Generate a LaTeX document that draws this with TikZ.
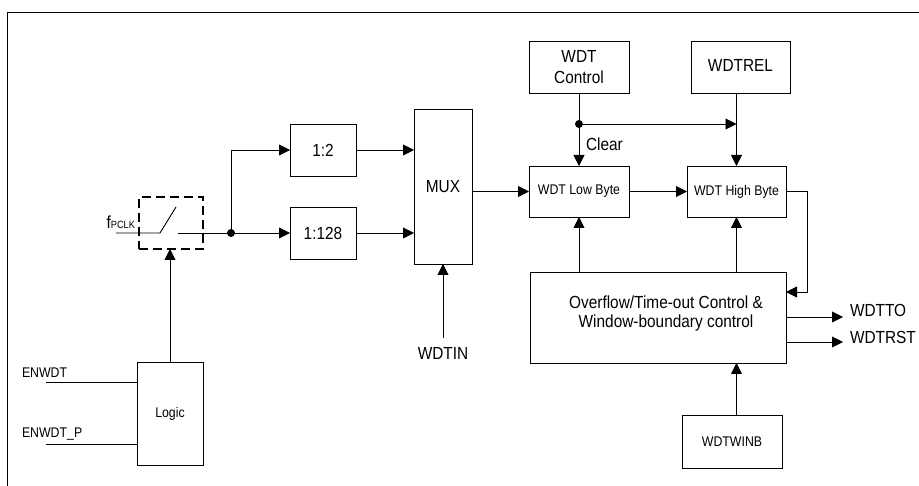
\documentclass[tikz,border=0pt]{standalone}
\usepackage{fontspec}
\setmainfont[FakeStretch=0.88]{Liberation Sans}
\usetikzlibrary{arrows.meta}
\newcommand\myBig{\fontsize{17.5}{21}\selectfont}
\newcommand\mySmall{\fontsize{14}{17}\selectfont}
\begin{document}
\begin{tikzpicture}[x=1pt,y=-1pt,line width=0.9pt,
  blk/.style={draw,inner sep=0,outer sep=0,align=center},
  lab/.style={inner sep=0,outer sep=0},
  arr/.style={-{Triangle[length=11pt,width=11pt]}},
  dot/.style={circle,fill,inner sep=0,minimum size=8pt}]
\useasboundingbox (0,0) rectangle (919,486);
% frame
\draw[line width=0.8pt] (7,486) -- (7,12) -- (919,12);
% blocks
\node[draw,dash pattern=on 9pt off 5pt,line width=2.3pt,inner sep=0,outer sep=0,
      minimum width=64pt,minimum height=52pt] (sw) at (171,223) {};
\node[blk,minimum width=66pt,minimum height=103pt,font=\mySmall] (logic) at (170,413.5) {Logic};
\node[blk,minimum width=66pt,minimum height=52pt,font=\myBig] (div2) at (323,150) {1:2};
\node[blk,minimum width=66pt,minimum height=52pt,font=\myBig] (div128) at (323,233) {1:128};
\node[blk,minimum width=58pt,minimum height=155pt,font=\myBig] (mux) at (443,186.5) {MUX};
\node[blk,minimum width=100pt,minimum height=52pt,font=\myBig] (ctrl) at (579,67) {WDT\\Control};
\node[blk,minimum width=99pt,minimum height=52pt,font=\myBig] (rel) at (740.5,67) {\raisebox{4pt}{WDTREL}};
\node[blk,minimum width=100pt,minimum height=51pt,font=\mySmall] (low) at (579,191.5) {WDT Low Byte};
\node[blk,minimum width=99pt,minimum height=51pt,font=\mySmall] (high) at (736.5,191.5) {WDT High Byte};
\node[blk,minimum width=256pt,minimum height=91pt] (ovf) at (658,317.5) {};
\node[lab,align=center,font=\myBig] (ovftxt) at (666,313) {Overflow/Time-out Control \&\\[-2pt]Window-boundary control};
\node[blk,minimum width=100pt,minimum height=53pt,font=\mySmall] (winb) at (732,441.5) {WDTWINB};
% labels
\node[lab,anchor=base east] (fclk) at (135,229) {\myBig f\fontsize{10.5}{11}\selectfont PCLK};
\node[lab,anchor=base west,font=\mySmall] (en) at (22,378) {ENWDT};
\node[lab,anchor=base west,font=\mySmall] (enp) at (22,437) {ENWDT\_P};
\node[inner xsep=0,inner ysep=9pt,outer sep=0,font=\myBig] (wdtin) at (443,353) {WDTIN};
\node[lab,anchor=west,font=\myBig] (clr) at (586,144) {Clear};
\node[lab,anchor=base west,font=\myBig] (wto) at (850,317) {WDTTO};
\node[lab,anchor=base west,font=\myBig] (wrst) at (850,344) {WDTRST};
% coordinates
\coordinate (fin) at (116,233);
\coordinate (swa) at (160,233);
\coordinate (swb) at (176,207);
\coordinate (swc) at (178,233);
\node[dot] (j1) at (231,233) {};
\node[dot] (j2) at (579,124) {};
\coordinate (e1) at (46,382);
\coordinate (e2) at (46,444);
\coordinate (fb2) at (807,292);
\coordinate (to) at (843,317);
\coordinate (trst) at (843,342);
% switch
\draw (fin) -- (swa) -- (swb);
\draw (swc) -- (j1.center);
\draw[arr] (j1.center) |- (div2.west);
\draw[arr] (j1.center) -- (div128.west);
\draw[arr] (logic.north) -- (logic.north |- sw.south);
\draw (e1) -- (e1 -| logic.west);
\draw (e2) -- (e2 -| logic.west);
% mux
\draw[arr] (div2.east) -- (div2.east -| mux.west);
\draw[arr] (div128.east) -- (div128.east -| mux.west);
\draw[arr] (wdtin.north) -- (mux.south);
\draw[arr] (mux.east |- low.west) -- (low.west);
% counters
\draw[arr] (ctrl.south) -- (low.north);
\draw[arr] (j2.center) -- (high.north |- j2);
\draw[arr] (high.north |- rel.south) -- (high.north);
\draw[arr] (low.east) -- (high.west);
\draw[arr] (high.east) -| (fb2) -- (ovf.east |- fb2);
\draw[arr] (low.south |- ovf.north) -- (low.south);
\draw[arr] (high.south |- ovf.north) -- (high.south);
\draw[arr] (high.south |- winb.north) -- (high.south |- ovf.south);
\draw[arr] (ovf.east |- to) -- (to);
\draw[arr] (ovf.east |- trst) -- (trst);
\end{tikzpicture}
\end{document}
